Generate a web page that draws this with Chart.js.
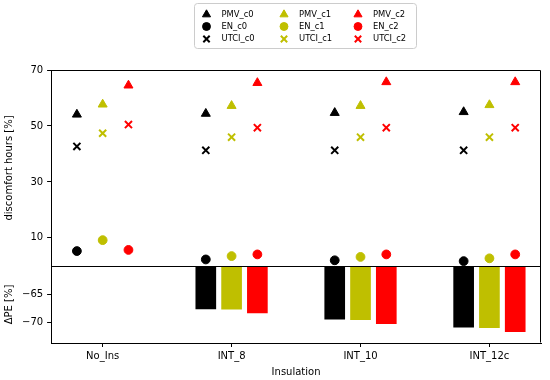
<!DOCTYPE html>
<html>
<head>
<meta charset="utf-8">
<script src="https://cdn.jsdelivr.net/npm/chart.js@4.4.0/dist/chart.umd.min.js"></script>
<style>
  html, body { margin: 0; padding: 0; background: #fff; }
  #wrap { width: 550px; height: 380px; }
</style>
</head>
<body>
<div id="wrap"><canvas id="myChart"></canvas></div>
<script>
// categories / tick labels
var categories = ['No_Ins', 'INT_8', 'INT_10', 'INT_12c'];
var upperTicks = [10, 30, 50, 70];
var lowerTicks = [-65, -70];

// discomfort hours [%]
var pmv_c0 = [54.1, 54.4, 54.7, 55.0];
var pmv_c1 = [57.7, 57.2, 57.2, 57.5];
var pmv_c2 = [64.5, 65.4, 65.7, 65.7];
var en_c0 = [5.3, 2.3, 2.0, 1.7];
var en_c1 = [9.2, 3.5, 3.2, 2.7];
var en_c2 = [5.7, 4.1, 4.1, 4.1];
var utci_c0 = [42.7, 41.3, 41.3, 41.3];
var utci_c1 = [47.4, 46.0, 46.0, 46.0];
var utci_c2 = [50.5, 49.4, 49.4, 49.4];

// delta primary energy [%]
var dpe_c0 = [null, -67.6, -69.4, -70.8];
var dpe_c1 = [null, -67.65, -69.5, -70.9];
var dpe_c2 = [null, -68.3, -70.2, -71.6];

var colors = ['#000000', '#bfbf00', '#ff0000'];
var shift = [-0.2, 0, 0.2];
var font = { family: 'DejaVu Sans', size: 10 };

function pts(arr, j) {
      return arr.map(function (v, i) { return { x: i + shift[j], y: v } })
}
function bars(arr, j, top) {
      var out = []
      arr.forEach(function (v, i) {
            if (v !== null) out.push({ x: i + shift[j], y: [top, v] })
      })
      return out
}

var series = [
      { name: 'PMV', style: 'triangle', r: 5.2, bw: 1, sets: [pmv_c0, pmv_c1, pmv_c2] },
      { name: 'EN', style: 'circle', r: 4.4, bw: 1, sets: [en_c0, en_c1, en_c2] },
      { name: 'UTCI', style: 'crossRot', r: 5, bw: 2, sets: [utci_c0, utci_c1, utci_c2] }
]

var datasets = []
series.forEach(function (s) {
      s.sets.forEach(function (arr, j) {
            datasets.push({
                  type: 'scatter',
                  label: s.name + '_c' + j,
                  data: pts(arr, j),
                  yAxisID: 'yTop',
                  pointStyle: s.style,
                  pointRadius: s.r,
                  pointHoverRadius: s.r,
                  pointBorderWidth: s.bw,
                  backgroundColor: colors[j],
                  borderColor: colors[j],
            })
      })
})
;[dpe_c0, dpe_c1, dpe_c2].forEach(function (arr, j) {
      datasets.push({
            type: 'bar',
            label: 'dPE_c' + j,
            data: bars(arr, j, -60),
            yAxisID: 'yBot',
            backgroundColor: colors[j],
            borderWidth: 0,
            barThickness: 20,
            grouped: false,
      })
})

var framePlugin = {
      id: 'frame',
      afterDraw: function (chart) {
            var ctx = chart.ctx
            var a = chart.chartArea
            var ys = Math.round(chart.scales.yBot.top) + 0.5
            ctx.save()
            ctx.strokeStyle = '#000'
            ctx.lineWidth = 1
            ctx.beginPath()
            ctx.moveTo(Math.round(a.left) + 0.5, Math.round(a.top) + 0.5)
            ctx.lineTo(Math.round(a.right) - 0.5, Math.round(a.top) + 0.5)
            ctx.lineTo(Math.round(a.right) - 0.5, Math.round(a.bottom) - 0.5)
            ctx.moveTo(Math.round(a.left), ys)
            ctx.lineTo(Math.round(a.right), ys)
            ctx.stroke()
            ctx.restore()
      }
}

var legendPlugin = {
      id: 'gridLegend',
      afterDraw: function (chart) {
            var ctx = chart.ctx
            var box = { x: 194, y: 3, w: 222, h: 45 }
            var colX = [206.5, 284, 358]
            var rowY = [14.5, 26.5, 39]
            ctx.save()
            ctx.fillStyle = 'rgba(255,255,255,0.8)'
            ctx.strokeStyle = '#cccccc'
            ctx.lineWidth = 1
            ctx.beginPath()
            ctx.roundRect(box.x + 0.5, box.y + 0.5, box.w, box.h, 3)
            ctx.fill()
            ctx.stroke()
            ctx.font = '8.4px "DejaVu Sans"'
            ctx.textBaseline = 'middle'
            series.forEach(function (s, r) {
                  for (var j = 0; j < 3; j++) {
                        ctx.fillStyle = colors[j]
                        ctx.strokeStyle = colors[j]
                        ctx.lineWidth = s.bw
                        Chart.helpers.drawPoint(ctx, { pointStyle: s.style, radius: s.r * 0.9, borderWidth: s.bw, rotation: 0 }, colX[j], rowY[r])
                        ctx.fillStyle = '#000'
                        ctx.fillText(s.name + '_c' + j, colX[j] + 15, rowY[r])
                  }
            })
            ctx.restore()
      }
}

function axisGrid() {
      return { drawOnChartArea: false, drawTicks: true, tickLength: 4, tickColor: '#000', offset: false }
}

function minusFmt(v) {
      return String(v).replace('-', '\u2212')
}

var ctx = document.getElementById('myChart')
var myChart = new Chart(ctx, {
      type: 'scatter',
      data: { datasets: datasets },
      plugins: [framePlugin, legendPlugin],
      options: {
            animation: false,
            responsive: true,
            maintainAspectRatio: false,
            layout: { padding: { top: 70, right: 9, left: 3, bottom: 2 } },
            plugins: {
                  legend: { display: false },
                  tooltip: { enabled: false },
            },
            scales: {
                  x: {
                        type: 'linear',
                        offset: false,
                        min: -0.4,
                        max: 3.4,
                        afterBuildTicks: function (axis) {
                              axis.ticks = categories.map(function (c, i) { return { value: i } })
                        },
                        ticks: {
                              autoSkip: false,
                              maxRotation: 0,
                              color: '#000',
                              font: font,
                              padding: 3,
                              callback: function (v) { return categories[v] },
                        },
                        grid: axisGrid(),
                        border: { color: '#000' },
                        title: { display: true, text: 'Insulation', color: '#000', font: font, padding: { top: 1, bottom: 0 } },
                  },
                  yBot: {
                        type: 'linear',
                        position: 'left',
                        stack: 'main',
                        stackWeight: 1,
                        min: -73.6,
                        max: -60,
                        afterBuildTicks: function (axis) {
                              axis.ticks = lowerTicks.map(function (v) { return { value: v } })
                        },
                        ticks: { color: '#000', font: font, padding: 4, callback: minusFmt },
                        grid: axisGrid(),
                        border: { color: '#000' },
                        title: { display: true, text: 'ΔPE [%]', color: '#000', font: font, padding: { top: 0, bottom: 3 } },
                  },
                  yTop: {
                        type: 'linear',
                        position: 'left',
                        stack: 'main',
                        stackWeight: 2.54,
                        min: 0,
                        max: 70,
                        afterBuildTicks: function (axis) {
                              axis.ticks = upperTicks.map(function (v) { return { value: v } })
                        },
                        ticks: { color: '#000', font: font, padding: 4 },
                        grid: axisGrid(),
                        border: { color: '#000' },
                        title: { display: true, text: 'discomfort hours [%]', color: '#000', font: font, padding: { top: 0, bottom: 3 } },
                  },
            },
      }
})
</script>
</body>
</html>
